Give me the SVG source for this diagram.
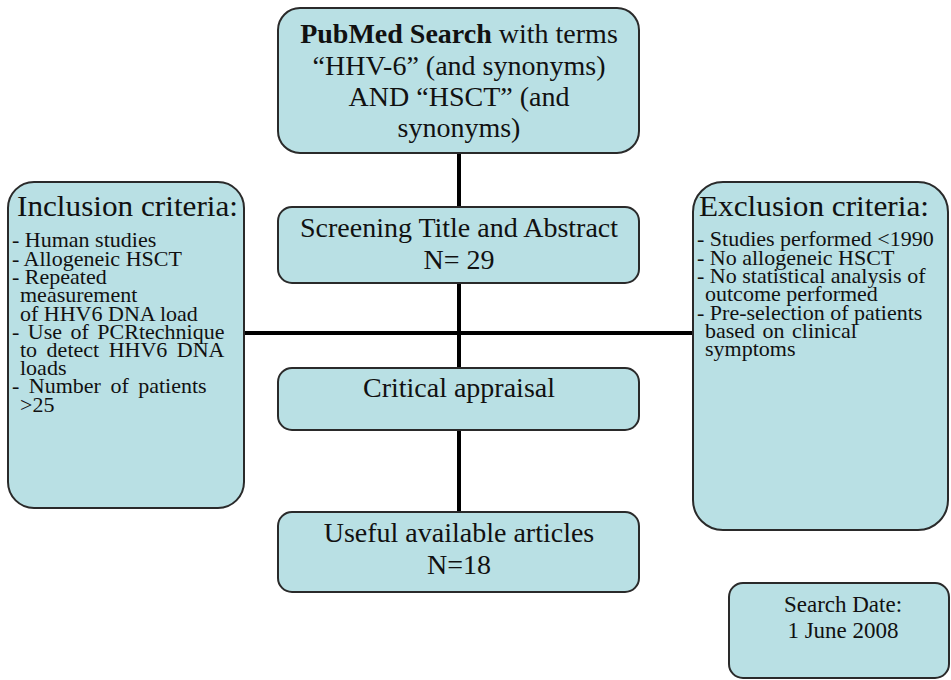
<svg xmlns="http://www.w3.org/2000/svg" width="951" height="680" viewBox="0 0 951 680">
<style>
.box{fill:#b9e0e4;stroke:#2a2a2a;stroke-width:2}
.t{font-family:"Liberation Serif","Times New Roman",serif;fill:#111}
.c{text-anchor:middle;font-size:28px}
.h{font-size:30px}
.l{font-size:22px}
.line{stroke:#000;stroke-width:4;fill:none}
</style>
<rect width="951" height="680" fill="#fff"/>
<g id="connectors">
<line class="line" x1="459" y1="152" x2="459" y2="512"/>
<line class="line" x1="244" y1="333" x2="693" y2="333"/>
</g>
<g id="pubmed">
<rect class="box" x="278" y="8" width="361" height="145" rx="22"/>
<text class="t c" font-size="27.5"><tspan x="459" y="43"><tspan font-weight="bold">PubMed Search</tspan> with terms</tspan><tspan x="459" y="75">“HHV-6” (and synonyms)</tspan><tspan x="459" y="106">AND “HSCT” (and</tspan><tspan x="459" y="137">synonyms)</tspan></text>
</g>
<g id="screening">
<rect class="box" x="278" y="207" width="361" height="76" rx="14"/>
<text class="t c"><tspan x="459" y="237">Screening Title and Abstract</tspan><tspan x="459" y="269">N= 29</tspan></text>
</g>
<g id="critical">
<rect class="box" x="278" y="368" width="361" height="62" rx="14"/>
<text class="t c" x="459" y="397">Critical appraisal</text>
</g>
<g id="useful">
<rect class="box" x="278" y="512" width="361" height="80" rx="14"/>
<text class="t c"><tspan x="459" y="542">Useful available articles</tspan><tspan x="459" y="574">N=18</tspan></text>
</g>
<g id="inclusion">
<rect class="box" x="8" y="182" width="236" height="326" rx="26"/>
<text class="t h" x="17" y="216" textLength="221" lengthAdjust="spacingAndGlyphs">Inclusion criteria:</text>
<text class="t l" x="12" y="247">- Human studies</text>
<text class="t l" x="12" y="266">- Allogeneic HSCT</text>
<text class="t l" x="12" y="284">- Repeated</text>
<text class="t l" x="20" y="302">measurement</text>
<text class="t l" x="20" y="321">of HHV6 DNA load</text>
<text class="t l" x="12" y="339" word-spacing="3">- Use of PCRtechnique</text>
<text class="t l" x="20" y="357" word-spacing="4">to detect HHV6 DNA</text>
<text class="t l" x="20" y="375">loads</text>
<text class="t l" x="12" y="393" word-spacing="4">- Number of patients</text>
<text class="t l" x="20" y="412">&gt;25</text>
</g>
<g id="exclusion">
<rect class="box" x="693" y="182" width="255" height="348" rx="30"/>
<text class="t h" x="699" y="216" textLength="230" lengthAdjust="spacingAndGlyphs">Exclusion criteria:</text>
<text class="t l" x="697" y="246">- Studies performed &lt;1990</text>
<text class="t l" x="697" y="265">- No allogeneic HSCT</text>
<text class="t l" x="697" y="283">- No statistical analysis of</text>
<text class="t l" x="705" y="301">outcome performed</text>
<text class="t l" x="697" y="320">- Pre-selection of patients</text>
<text class="t l" x="705" y="338" word-spacing="2">based on clinical</text>
<text class="t l" x="705" y="356">symptoms</text>
</g>
<g id="searchdate">
<rect class="box" x="729" y="583" width="220" height="95" rx="14"/>
<text class="t" font-size="23" text-anchor="middle"><tspan x="843" y="612">Search Date:</tspan><tspan x="843" y="638">1 June 2008</tspan></text>
</g>
</svg>
